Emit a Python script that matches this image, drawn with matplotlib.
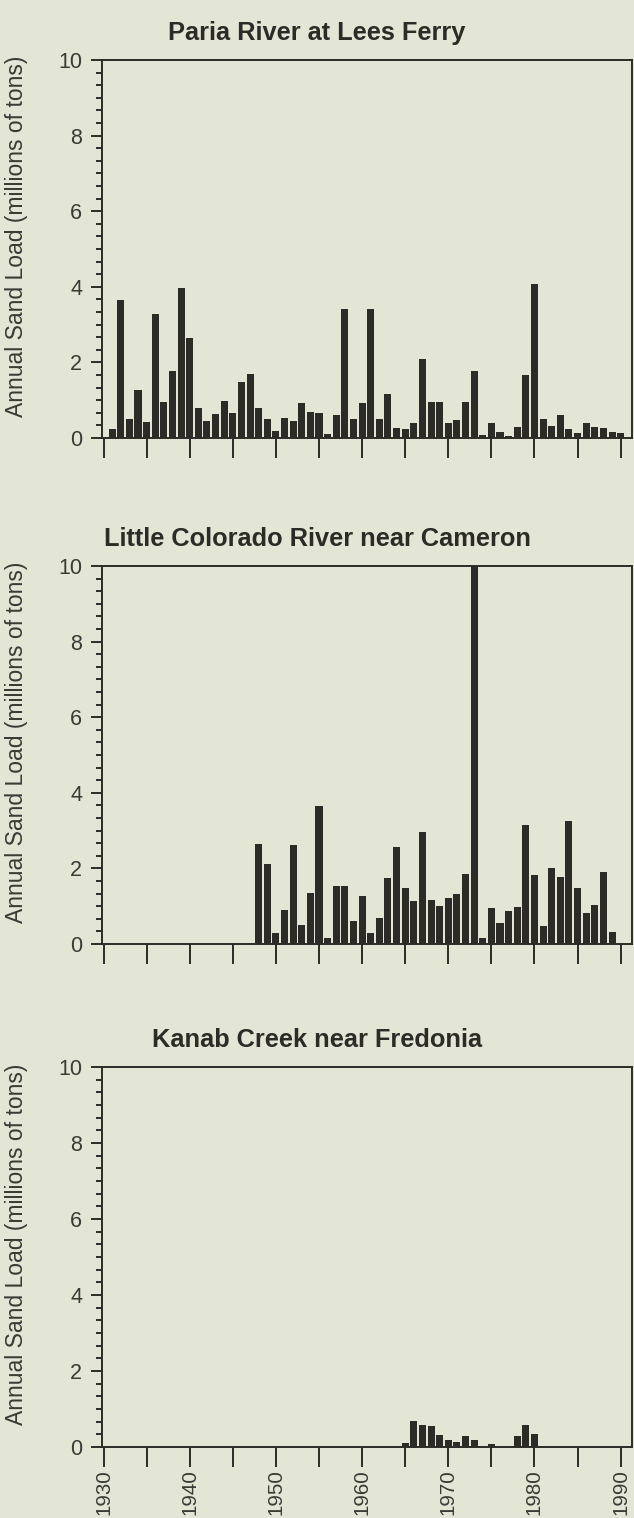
import numpy as np
import matplotlib.pyplot as plt
from matplotlib.ticker import MultipleLocator, FixedLocator, NullFormatter

# annual sand load, millions of tons
paria_years = list(range(1931, 1991))
paria_load = [0.23, 3.65, 0.51, 1.28, 0.42, 3.29, 0.94, 1.78, 3.96, 2.64,
              0.79, 0.44, 0.63, 0.99, 0.66, 1.49, 1.69, 0.79, 0.50, 0.18,
              0.53, 0.44, 0.93, 0.68, 0.66, 0.11, 0.60, 3.42, 0.49, 0.93,
              3.40, 0.51, 1.17, 0.26, 0.23, 0.40, 2.10, 0.94, 0.94, 0.40,
              0.47, 0.94, 1.77, 0.07, 0.41, 0.16, 0.04, 0.28, 1.67, 4.07,
              0.49, 0.33, 0.62, 0.25, 0.12, 0.40, 0.30, 0.27, 0.16, 0.13]

lcr_years = list(range(1948, 1990))
lcr_load = [2.65, 2.11, 0.30, 0.89, 2.63, 0.51, 1.36, 3.66, 0.15, 1.54,
            1.54, 0.61, 1.27, 0.28, 0.70, 1.75, 2.56, 1.48, 1.13, 2.95,
            1.16, 1.01, 1.22, 1.31, 1.85, 10.0, 0.17, 0.96, 0.55, 0.87,
            0.98, 3.15, 1.83, 0.48, 2.02, 1.77, 3.25, 1.49, 0.81, 1.03,
            1.90, 0.31]

kanab_years = [1965, 1966, 1967, 1968, 1969, 1970, 1971, 1972, 1973,
               1975, 1978, 1979, 1980]
kanab_load = [0.11, 0.68, 0.57, 0.54, 0.31, 0.19, 0.12, 0.28, 0.19,
              0.09, 0.28, 0.58, 0.33]

titles = ["Paria River at Lees Ferry",
          "Little Colorado River near Cameron",
          "Kanab Creek near Fredonia"]
ylabel = "Annual Sand Load (millions of tons)"

BG = "#e3e5d5"
INK = "#2c2b28"
TXT = "#3a3a36"

W, H = 634, 1518
fig = plt.figure(figsize=(W / 100, H / 100), dpi=100, facecolor=BG)

# panel boxes in pixels: left, right, top, bottom
boxes = [(101.7, 632.3, 60, 438),
         (101.7, 632.3, 566, 944),
         (101.7, 632.3, 1067, 1447)]
series = [(paria_years, paria_load),
          (lcr_years, lcr_load),
          (kanab_years, kanab_load)]

fam = ["Liberation Sans", "DejaVu Sans"]

for i, ((l, r, t, b), (yrs, vals), title) in enumerate(zip(boxes, series, titles)):
    ax = fig.add_axes([l / W, (H - b) / H, (r - l) / W, (b - t) / H])
    ax.set_facecolor(BG)
    ax.bar(yrs, vals, width=0.82, color=INK, linewidth=0, zorder=2)

    ax.set_xlim(1929.79, 1991.35)
    ax.set_ylim(0, 10)

    for sp in ax.spines.values():
        sp.set_color(INK)
        sp.set_linewidth(1.4)

    ax.yaxis.set_major_locator(MultipleLocator(2))
    ax.yaxis.set_minor_locator(FixedLocator(np.arange(31) / 3))
    ax.tick_params(axis="y", which="major", length=8, width=1.4, color=INK,
                   pad=6, labelsize=15.5, labelcolor=TXT)
    ax.tick_params(axis="y", which="minor", length=4, width=1.4, color=INK)
    for lab in ax.get_yticklabels():
        lab.set_family(fam)

    ax.xaxis.set_major_locator(MultipleLocator(10))
    ax.xaxis.set_minor_locator(MultipleLocator(5))
    ax.tick_params(axis="x", which="both", length=14.4, width=1.4, color=INK,
                   direction="out")
    if i == 2:
        ax.xaxis.set_major_formatter(lambda v, p: f"{int(v)}")
        ax.tick_params(axis="x", which="major", pad=1.8, labelsize=14.8,
                       labelcolor=TXT, labelrotation=90)
        for lab in ax.get_xticklabels():
            lab.set_family(fam)
    else:
        ax.xaxis.set_major_formatter(NullFormatter())

    ax.text(-0.1615, 0.534, ylabel, transform=ax.transAxes, rotation=90,
            ha="center", va="center", fontsize=16.5, color=TXT, family=fam)

    fig.text(0.5, (H - (t - 20)) / H, title, ha="center", va="baseline",
             fontsize=18.3, fontweight="bold", color=INK, family=fam)

fig.savefig("out.png", dpi=100, facecolor=BG)
